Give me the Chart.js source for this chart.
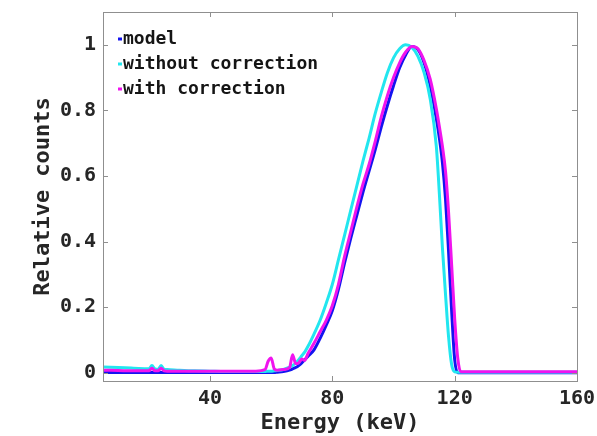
<!DOCTYPE html>
<html>
<head>
<meta charset="utf-8">
<script src="https://cdn.jsdelivr.net/npm/chart.js@4"></script>
<style>
  html, body { margin: 0; padding: 0; background: #fff; }
  #wrap { width: 597px; height: 436px; position: relative; }
</style>
</head>
<body>
<div id="wrap"><canvas id="spectrum"></canvas></div>
<script>
// energy grid (keV)
const energies = [5, 10, 15, 20, 21, 22, 23, 24, 25, 26, 30, 35, 40, 45, 50, 55, 58, 59, 60, 61, 62, 64, 66, 67, 68, 69, 70, 71, 72, 74, 76, 78, 80, 82, 84, 86, 88, 90, 92, 94, 96, 98, 100, 102, 104, 106, 108, 110, 112, 114, 115, 116, 117, 118, 119, 120, 121, 122, 123, 125, 130, 140, 150, 160];

const modelCounts = [0.001, 0.001, 0.001, 0.001, 0.001, 0.001, 0.001, 0.001, 0.001, 0.001, 0.001, 0.001, 0.001, 0.001, 0.001, 0.001, 0.001, 0.001, 0.001, 0.001, 0.002, 0.004, 0.008, 0.012, 0.016, 0.022, 0.030, 0.040, 0.050, 0.070, 0.105, 0.145, 0.190, 0.255, 0.335, 0.410, 0.480, 0.550, 0.615, 0.680, 0.750, 0.815, 0.875, 0.930, 0.970, 0.995, 0.985, 0.945, 0.875, 0.775, 0.715, 0.640, 0.530, 0.370, 0.190, 0.040, 0.000, 0.000, 0.000, 0.000, 0.000, 0.000, 0.000, 0.000];

const withoutCounts = [0.018, 0.016, 0.014, 0.012, 0.022, 0.012, 0.011, 0.022, 0.011, 0.010, 0.008, 0.006, 0.005, 0.004, 0.004, 0.004, 0.004, 0.005, 0.005, 0.006, 0.007, 0.010, 0.017, 0.022, 0.030, 0.040, 0.052, 0.064, 0.080, 0.118, 0.160, 0.212, 0.270, 0.345, 0.420, 0.495, 0.570, 0.645, 0.715, 0.790, 0.855, 0.915, 0.960, 0.988, 1.000, 0.992, 0.965, 0.915, 0.835, 0.690, 0.545, 0.380, 0.240, 0.110, 0.025, 0.003, 0.002, 0.002, 0.002, 0.002, 0.002, 0.002, 0.002, 0.002];

const withCounts = [0.008, 0.007, 0.006, 0.006, 0.014, 0.006, 0.006, 0.014, 0.006, 0.005, 0.005, 0.005, 0.005, 0.005, 0.005, 0.005, 0.010, 0.035, 0.045, 0.012, 0.008, 0.010, 0.016, 0.055, 0.028, 0.030, 0.042, 0.038, 0.058, 0.090, 0.125, 0.160, 0.205, 0.270, 0.355, 0.430, 0.505, 0.575, 0.635, 0.705, 0.780, 0.845, 0.900, 0.945, 0.978, 0.995, 0.988, 0.952, 0.895, 0.805, 0.750, 0.690, 0.615, 0.490, 0.330, 0.165, 0.045, 0.003, 0.003, 0.003, 0.003, 0.003, 0.003, 0.003];

const seriesNames = ["model", "without correction", "with correction"];
const seriesColors = ["#1414f0", "#22e6ef", "#f014ee"];

const xTicks = [40, 80, 120, 160];
const yTicks = [0, 0.2, 0.4, 0.6, 0.8, 1];

const monoFont = "'DejaVu Sans Mono', 'Liberation Mono', monospace";
const labelColor = "#262626";
const frameColor = "#8f8f8f";

function toPoints(values) {
    return energies.map((e, i) => ({ x: e, y: values[i] }));
}

// box around the plot with MATLAB-style inward ticks
const boxPlugin = {
    id: "box",
    afterDraw(chart) {
        const { ctx, chartArea: a, scales } = chart;
        ctx.save();
        ctx.strokeStyle = frameColor;
        ctx.lineWidth = 1;
        ctx.strokeRect(Math.round(a.left) + 0.5, Math.round(a.top) + 0.5,
            Math.round(a.right - a.left), Math.round(a.bottom - a.top));
        ctx.beginPath();
        xTicks.forEach(v => {
            const px = Math.round(scales.x.getPixelForValue(v)) + 0.5;
            ctx.moveTo(px, a.bottom); ctx.lineTo(px, a.bottom - 5);
            ctx.moveTo(px, a.top); ctx.lineTo(px, a.top + 5);
        });
        yTicks.forEach(v => {
            const py = Math.round(scales.y.getPixelForValue(v)) + 0.5;
            ctx.moveTo(a.left, py); ctx.lineTo(a.left + 5, py);
            ctx.moveTo(a.right, py); ctx.lineTo(a.right - 5, py);
        });
        ctx.stroke();
        ctx.restore();
    }
};

// legend drawn inside the plot, top left
const innerLegend = {
    id: "innerLegend",
    afterDraw(chart) {
        const { ctx, chartArea: a } = chart;
        ctx.save();
        ctx.font = "bold 18px " + monoFont;
        ctx.textBaseline = "middle";
        seriesNames.forEach((name, i) => {
            const y = a.top + 27 + i * 25;
            ctx.strokeStyle = seriesColors[i];
            ctx.lineWidth = 3;
            ctx.beginPath();
            ctx.moveTo(a.left + 15, y);
            ctx.lineTo(a.left + 19, y);
            ctx.stroke();
            ctx.fillStyle = "#151515";
            ctx.fillText(name, a.left + 20, y);
        });
        ctx.restore();
    }
};

document.addEventListener("DOMContentLoaded", function () {
    const ctx = document.getElementById("spectrum").getContext("2d");
    const allCounts = [modelCounts, withoutCounts, withCounts];

    new Chart(ctx, {
        type: "line",
        data: {
            datasets: seriesNames.map((name, i) => ({
                label: name,
                data: toPoints(allCounts[i]),
                borderColor: seriesColors[i],
                borderWidth: 3,
                pointRadius: 0,
                fill: false,
                cubicInterpolationMode: "monotone",
                order: 3 - i
            }))
        },
        options: {
            responsive: true,
            maintainAspectRatio: false,
            animation: false,
            layout: { padding: { top: 12, right: 20, left: 0, bottom: 0 } },
            plugins: {
                legend: { display: false },
                tooltip: { enabled: false }
            },
            scales: {
                x: {
                    type: "linear",
                    min: 5,
                    max: 160,
                    afterBuildTicks: scale => { scale.ticks = xTicks.map(v => ({ value: v })); },
                    afterFit: scale => {
                        scale.height = 55;
                        scale.paddingLeft = 0;
                        scale.paddingRight = 0;
                    },
                    grid: { display: false, drawTicks: false },
                    border: { display: false },
                    ticks: {
                        padding: 6,
                        color: labelColor,
                        maxRotation: 0,
                        font: { family: monoFont, size: 20, weight: "bold" }
                    },
                    title: {
                        display: true,
                        text: "Energy (keV)",
                        color: labelColor,
                        padding: { top: 0, bottom: 0 },
                        font: { family: monoFont, size: 22, weight: "bold" }
                    }
                },
                y: {
                    type: "linear",
                    min: -0.025,
                    max: 1.1,
                    afterBuildTicks: scale => { scale.ticks = yTicks.map(v => ({ value: v })); },
                    afterFit: scale => {
                        scale.width = 103;
                        scale.paddingTop = 0;
                        scale.paddingBottom = 0;
                    },
                    grid: { display: false, drawTicks: false },
                    border: { display: false },
                    ticks: {
                        padding: 7,
                        color: labelColor,
                        callback: v => String(Number(v.toFixed(1))),
                        font: { family: monoFont, size: 20, weight: "bold" }
                    },
                    title: {
                        display: true,
                        text: "Relative counts",
                        color: labelColor,
                        padding: { top: 30, bottom: 0 },
                        font: { family: monoFont, size: 22, weight: "bold" }
                    }
                }
            }
        },
        plugins: [boxPlugin, innerLegend]
    });
});
</script>
</body>
</html>
